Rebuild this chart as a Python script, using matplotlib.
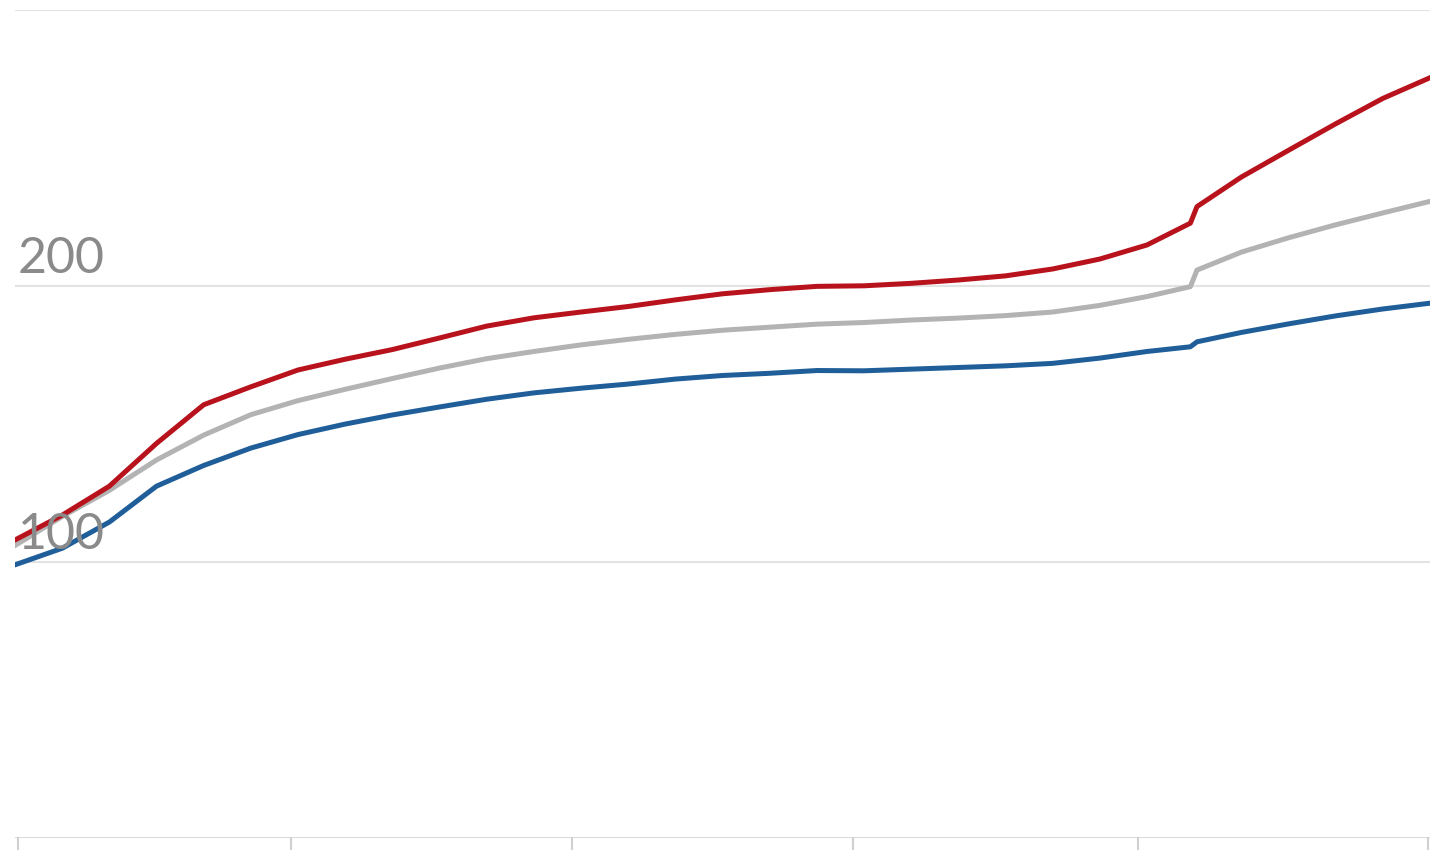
import matplotlib
matplotlib.use("Agg")
import matplotlib.pyplot as plt

# jours (pas de 5 jours, avec deux points autour du saut vers le jour 125)
days = [0, 5, 10, 15, 20, 25, 30, 35, 40, 45, 50, 55, 60, 65, 70, 75, 80, 85, 90,
        95, 100, 105, 110, 115, 120, 124.6, 125.3, 130, 135, 140, 145, 150]

red = [108, 117, 127.5, 143, 157, 163.5, 169.6, 173.5, 177, 181.2, 185.5, 188.5,
       190.6, 192.6, 195, 197.2, 198.7, 199.9, 200.1, 201, 202.2, 203.7, 206.2,
       209.8, 214.9, 222.8, 228.8, 239.5, 249.2, 258.8, 268, 275.5]
gray = [106, 116.5, 126, 137, 146, 153.4, 158.5, 162.6, 166.5, 170.3, 173.7, 176.3,
        178.7, 180.7, 182.5, 184, 185.1, 186.2, 186.8, 187.7, 188.4, 189.3, 190.6,
        193, 196.2, 199.8, 205.8, 212.3, 217.5, 222.2, 226.5, 230.7]
blue = [99, 105, 114.5, 127.5, 135, 141.3, 146.2, 150, 153.3, 156.2, 159, 161.3,
        163, 164.5, 166.3, 167.6, 168.4, 169.4, 169.3, 169.9, 170.5, 171.1, 172,
        173.9, 176.3, 178, 179.8, 183.2, 186.3, 189.2, 191.7, 193.8]

y_labels = [100, 200]
x_ticks = [0.3, 29.3, 59, 88.8, 119, 149.8]

fig = plt.figure(figsize=(14.35, 8.5), dpi=100)
ax = fig.add_axes([0.0105, 0.0141, 0.986, 0.974])

# grille horizontale
for v in [100, 200, 300]:
    ax.axhline(v, color="#e3e3e3", lw=1.5, zorder=1)
ax.axhline(0, color="#d6d6d6", lw=2, zorder=1)

ax.plot(days, gray, color="#b3b3b3", lw=3.6, zorder=3)
ax.plot(days, blue, color="#1f5e99", lw=3.6, zorder=3)
ax.plot(days, red, color="#b8121c", lw=3.6, zorder=4)

for v in y_labels:
    ax.text(0.25, v + 1.3, str(v), fontsize=36, color="#8a8a8a", family="Lato",
            ha="left", va="bottom", zorder=5)

# petits traits des graduations en x
for t in x_ticks:
    ax.plot([t, t], [0, -4], color="#d0d0d0", lw=1.5, clip_on=False)

ax.set_xlim(0, 150)
ax.set_ylim(0, 300)
ax.axis("off")

fig.savefig("out.png", dpi=100)
